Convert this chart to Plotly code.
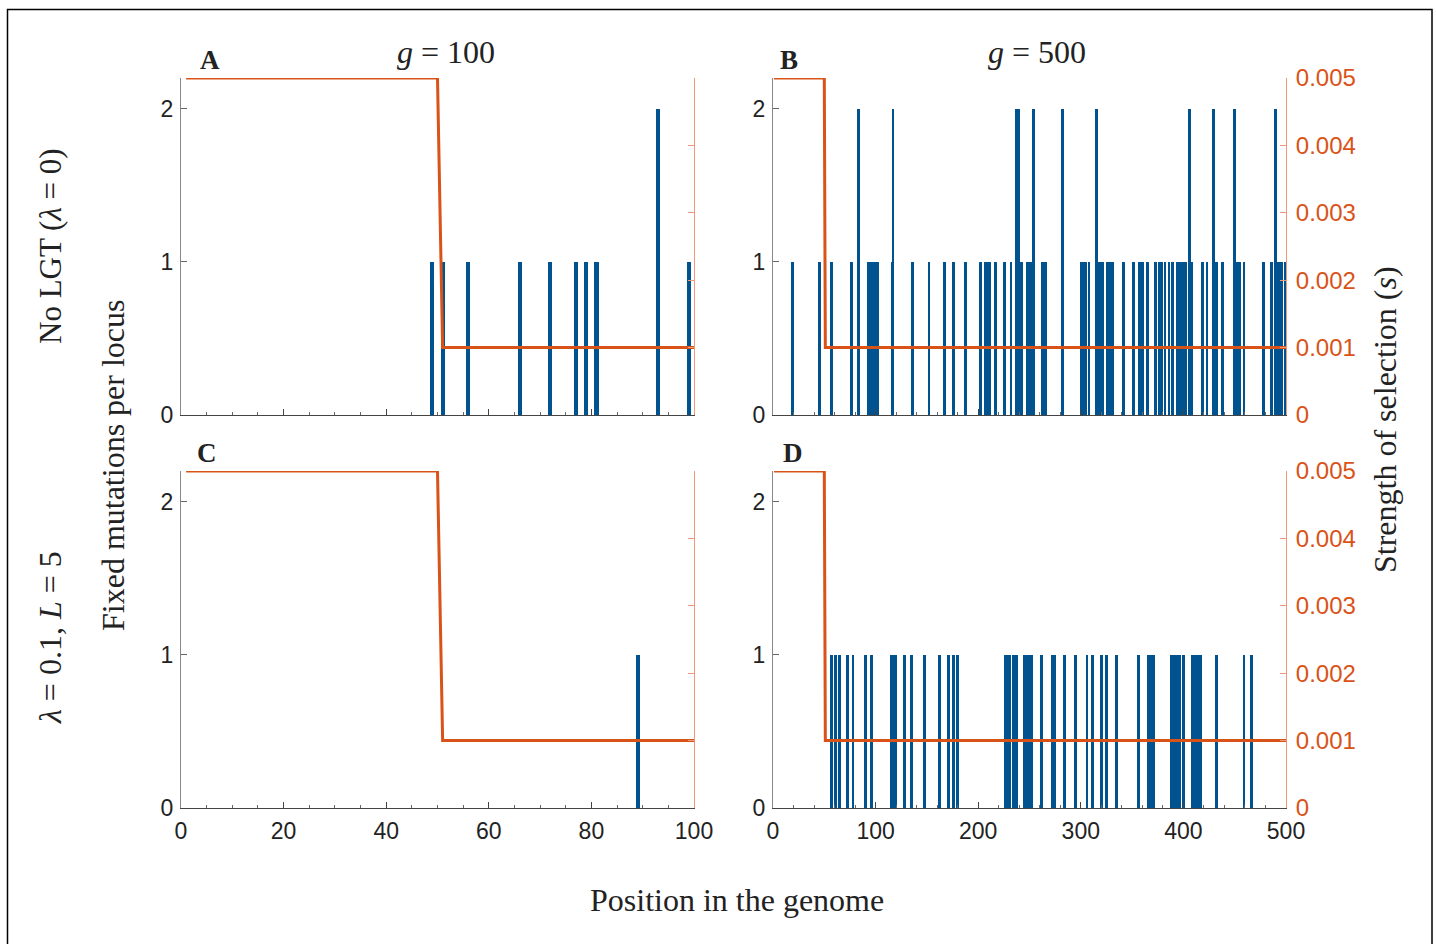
import plotly.graph_objects as go

# ---- data -------------------------------------------------------------
# Panel A: g = 100, no LGT
pos_a = [49, 51, 56, 66, 72, 77, 79, 81, 93, 99]
cnt_a = [1, 1, 1, 1, 1, 1, 1, 1, 2, 1]

# Panel B: g = 500, no LGT
pos_b = [19, 45, 57, 76, 77, 83, 93, 94, 96, 97, 98, 99, 101, 102, 116, 117,
         136, 152, 167, 176, 188, 202, 207, 208, 211, 217, 226, 232, 237, 239,
         242, 248, 251, 254, 263, 266, 282, 301, 303, 305, 308, 315, 317, 319,
         321, 326, 328, 331, 342, 351, 357, 360, 365, 373, 377, 379, 382, 386,
         389, 394, 396, 398, 400, 402, 406, 408, 419, 423, 429, 432, 438, 450,
         452, 455, 459, 478, 486, 490, 493, 496, 499]
cnt_b = [1, 1, 1, 1, 1, 2, 1, 1, 1, 1, 1, 1, 1, 1, 1, 2,
         1, 1, 1, 1, 1, 1, 1, 1, 1, 1, 1, 1, 2, 2,
         1, 1, 1, 2, 1, 1, 2, 1, 1, 1, 1, 2, 1, 1,
         1, 1, 1, 1, 1, 1, 1, 1, 1, 1, 1, 1, 1, 1,
         1, 1, 1, 1, 1, 1, 2, 1, 1, 1, 2, 1, 1, 2,
         1, 1, 1, 1, 1, 2, 1, 1, 1]

# Panel C: g = 100, lambda = 0.1, L = 5
pos_c = [89]
cnt_c = [1]

# Panel D: g = 500, lambda = 0.1, L = 5
pos_d = [57, 61, 65, 73, 78, 90, 96, 115, 117, 119, 128, 135, 148, 162, 171,
         176, 180, 227, 229, 231, 234, 237, 245, 247, 249, 252, 262, 272, 274,
         284, 295, 306, 311, 320, 325, 335, 356, 366, 368, 371, 388, 390, 393,
         396, 400, 409, 411, 413, 415, 417, 432, 459, 466]
cnt_d = [1] * len(pos_d)

# Strength of selection along the genome (step profile)
sel_x_100 = [1, 50, 51, 100]
sel_x_500 = [1, 50, 51, 500]
sel_s = [0.005, 0.005, 0.001, 0.001]

s_ticks = [0, 0.001, 0.002, 0.003, 0.004, 0.005]
s_ticktext = ["0", "0.001", "0.002", "0.003", "0.004", "0.005"]

# ---- styling ----------------------------------------------------------
BLUE = "#00538f"
ORANGE = "#D95319"
SANS = "Liberation Sans, Arial, sans-serif"
SERIF = "Liberation Serif, Times New Roman, serif"
W, H = 1436, 944

def px_x(p):
    return p / W

def px_y(p):
    return 1 - p / H

col_dom = [(px_x(181), px_x(694)), (px_x(773), px_x(1286))]
row_dom = [(px_y(415), px_y(78)), (px_y(808), px_y(471))]

panels = [
    # (bars x, bars y, selection x, xmax, col, row, bar width)
    (pos_a, cnt_a, sel_x_100, 100, 0, 0, 0.8),
    (pos_b, cnt_b, sel_x_500, 500, 1, 0, 2.8),
    (pos_c, cnt_c, sel_x_100, 100, 0, 1, 0.8),
    (pos_d, cnt_d, sel_x_500, 500, 1, 1, 2.8),
]

fig = go.Figure()
layout = {}

for i, (bx, by, sx, xmax, col, row, bw) in enumerate(panels):
    n = i + 1
    xa = "x" if n == 1 else f"x{n}"
    ya = "y" if n == 1 else f"y{n}"
    yr_n = n + 4
    yr = f"y{yr_n}"

    fig.add_trace(go.Bar(x=bx, y=by, width=bw, xaxis=xa, yaxis=ya,
                         marker=dict(color=BLUE, line=dict(width=0)),
                         showlegend=False, hoverinfo="x+y"))
    fig.add_trace(go.Scatter(x=sx, y=sel_s, mode="lines", xaxis=xa, yaxis=yr,
                             line=dict(color=ORANGE, width=3),
                             showlegend=False, cliponaxis=False))

    major = 20 if xmax == 100 else 100
    minor = 5 if xmax == 100 else 20
    layout["xaxis" if n == 1 else f"xaxis{n}"] = dict(
        domain=col_dom[col], range=[0, xmax], anchor=ya, automargin=False,
        tickvals=list(range(0, xmax + 1, major)),
        ticks="inside", ticklen=6, tickcolor="#444", tickwidth=1,
        minor=dict(ticks="inside", dtick=minor, ticklen=3, tickcolor="#666"),
        showline=True, linecolor="#444", linewidth=1,
        showgrid=False, zeroline=False,
        showticklabels=(row == 1),
        ticklabelstandoff=2,
        tickfont=dict(family=SANS, size=23, color="#222"),
        fixedrange=True,
    )
    layout["yaxis" if n == 1 else f"yaxis{n}"] = dict(
        domain=row_dom[row], range=[0, 2.2], anchor=xa, automargin=False,
        tickvals=[0, 1, 2], ticks="inside", ticklen=6, tickcolor="#666",
        showline=True, linecolor="#888", linewidth=1,
        showgrid=False, zeroline=False,
        ticklabelstandoff=2,
        tickfont=dict(family=SANS, size=23, color="#222"),
        fixedrange=True,
    )
    layout[f"yaxis{yr_n}"] = dict(
        overlaying=ya, side="right", anchor=xa, range=[0, 0.005],
        automargin=False,
        tickvals=s_ticks, ticktext=s_ticktext,
        ticks="inside", ticklen=6, tickcolor="#EE9A78",
        showline=True, linecolor="#EE9A78", linewidth=1,
        showgrid=False, zeroline=False,
        showticklabels=(col == 1),
        ticklabelstandoff=4,
        tickfont=dict(family=SANS, size=24, color=ORANGE),
        fixedrange=True,
    )

ann = []

def txt(x, y, text, size, angle=0, **kw):
    ann.append(dict(x=px_x(x), y=px_y(y), xref="paper", yref="paper",
                    text=text, showarrow=False, textangle=angle,
                    xanchor="center", yanchor="middle",
                    font=dict(family=SERIF, size=size, color="#222"), **kw))

txt(210, 60, "<b>A</b>", 27)
txt(789, 60, "<b>B</b>", 27)
txt(207, 453, "<b>C</b>", 27)
txt(793, 453, "<b>D</b>", 27)
txt(446, 52, "<i>g</i> = 100", 32)
txt(1037, 52, "<i>g</i> = 500", 32)
txt(113, 465, "Fixed mutations per locus", 32, angle=-90)
txt(50, 246, "No LGT (<i>λ</i> = 0)", 31, angle=-90)
txt(50, 638, "<i>λ</i> = 0.1, <i>L</i> = 5", 32, angle=-90)
txt(1385, 420, "Strength of selection (<i>s</i>)", 32, angle=-90)
txt(737, 900, "Position in the genome", 32)

fig.update_layout(
    template="none",
    width=W, height=H, autosize=False,
    margin=dict(l=0, r=0, t=0, b=0, pad=0, autoexpand=False),
    paper_bgcolor="white", plot_bgcolor="white",
    bargap=0, annotations=ann,
    shapes=[dict(type="rect", xref="paper", yref="paper",
                 x0=px_x(7.5), x1=px_x(1432), y0=-0.01, y1=px_y(9.5),
                 line=dict(color="black", width=1.5))],
    **layout,
)

# page without body margin so the figure sits at the window origin
page_css = ("document.documentElement.style.margin='0';"
            "document.body.style.margin='0';"
            "document.body.style.overflow='hidden';"
            "document.documentElement.style.overflow='hidden';")

fig.write_html("out.html", config={"displayModeBar": False},
               post_script=page_css)
